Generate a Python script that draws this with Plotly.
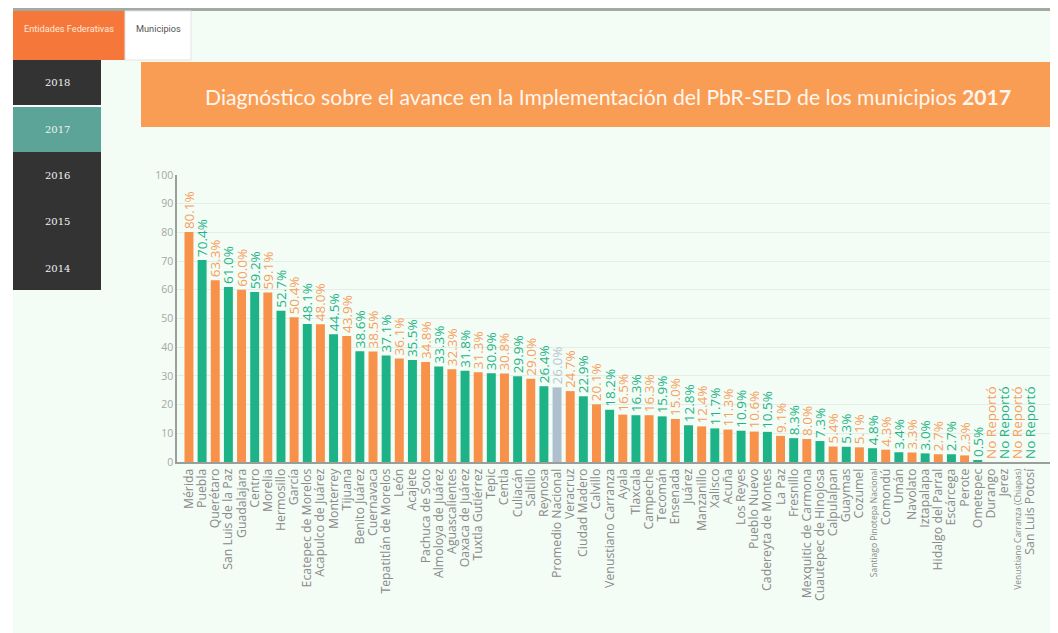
import plotly.graph_objects as go

# ---------------- data ----------------
municipios = [
    "Mérida", "Puebla", "Querétaro", "San Luis de la Paz", "Guadalajara", "Centro",
    "Morelia", "Hermosillo", "García", "Ecatepec de Morelos", "Acapulco de Juárez",
    "Monterrey", "Tijuana", "Benito Juárez", "Cuernavaca", "Tepatitlán de Morelos",
    "León", "Acajete", "Pachuca de Soto", "Almoloya de Juárez", "Aguascalientes",
    "Oaxaca de Juárez", "Tuxtla Gutiérrez", "Tepic", "Centla", "Culiacán", "Saltillo",
    "Reynosa", "Promedio Nacional", "Veracruz", "Ciudad Madero", "Calvillo",
    "Venustiano Carranza", "Ayala", "Tlaxcala", "Campeche", "Tecomán", "Ensenada",
    "Juárez", "Manzanillo", "Xalisco", "Acuña", "Los Reyes", "Pueblo Nuevo",
    "Cadereyta de Montes", "La Paz", "Fresnillo", "Mexquitic de Carmona",
    "Cuautepec de Hinojosa", "Calpulalpan", "Guaymas", "Cozumel",
    "Santiago Pinotepa Nacional", "Comondú", "Umán", "Navolato", "Iztapalapa",
    "Hidalgo del Parral", "Escárcega", "Perote", "Ometepec", "Durango", "Jerez",
    "Venustiano Carranza (Chiapas)", "San Luis Potosí",
]
avance = [
    80.1, 70.4, 63.3, 61.0, 60.0, 59.2, 59.1, 52.7, 50.4, 48.1, 48.0, 44.5, 43.9,
    38.6, 38.5, 37.1, 36.1, 35.5, 34.8, 33.3, 32.3, 31.8, 31.3, 30.9, 30.8, 29.9,
    29.0, 26.4, 26.0, 24.7, 22.9, 20.1, 18.2, 16.5, 16.3, 16.3, 15.9, 15.0, 12.8,
    12.4, 11.7, 11.3, 10.9, 10.6, 10.5, 9.1, 8.3, 8.0, 7.3, 5.4, 5.3, 5.1, 4.8,
    4.3, 3.4, 3.3, 3.0, 2.7, 2.7, 2.3, 0.5, None, None, None, None,
]
grupo = [
    "o", "g", "o", "g", "o", "g", "o", "g", "o", "g", "o", "g", "o", "g", "o", "g",
    "o", "g", "o", "g", "o", "g", "o", "g", "o", "g", "o", "g", "p", "o", "g", "o",
    "g", "o", "g", "o", "g", "o", "g", "o", "g", "o", "g", "o", "g", "o", "g", "o",
    "g", "o", "g", "o", "g", "o", "g", "o", "g", "o", "g", "o", "g", "o", "g", "o", "g",
]
y_ticks = [0, 10, 20, 30, 40, 50, 60, 70, 80, 90, 100]
anios = ["2018", "2017", "2016", "2015", "2014"]
anio_sel = "2017"
titulo = "Diagnóstico sobre el avance en la Implementación del PbR-SED de los municipios"
sin_dato = "No Reportó"

# ---------------- styles ----------------
PAGE_W, PAGE_H = 1058, 633
OFF = 8                      # default body margin of the html page
W, H = PAGE_W - OFF, PAGE_H - OFF
L, R, T, B = 177, 1052, 175, 462   # plot area in page pixels
palette = {"o": "#f8914a", "g": "#1db386", "p": "#aebfcd"}
text_palette = {"o": "#f7a05e", "g": "#1fb388", "p": "#b9c7d3"}


def px(x):
    return (x - L) / (R - L)


def py(y):
    return (B - y) / (B - T)


xs = list(range(len(municipios)))
ys = [v if v is not None else 0 for v in avance]
labels = [f"{v:.1f}%" if v is not None else sin_dato for v in avance]
bar_colors = [palette[g] for g in grupo]
txt_colors = [text_palette[g] for g in grupo]


def tick_label(name):
    if len(name) > 24:
        return f'<span style="font-size:8.5px">{name}</span>'
    if len(name) > 22:
        return f'<span style="font-size:9.5px">{name}</span>'
    return name


fig = go.Figure(
    go.Bar(
        x=xs,
        y=ys,
        marker=dict(color=bar_colors, line=dict(width=0)),
        text=labels,
        textposition="outside",
        textangle=-90,
        constraintext="none",
        cliponaxis=False,
        textfont=dict(family="Open Sans", size=13.5, color=txt_colors),
        hoverinfo="skip",
    )
)

shapes = []


def rect(x0, y0, x1, y1, fill, line=None, layer="below"):
    shapes.append(dict(
        type="rect", xref="paper", yref="paper",
        x0=px(x0), x1=px(x1), y0=py(y1), y1=py(y0),
        fillcolor=fill, line=line or dict(width=0), layer=layer,
    ))


# page background
rect(13, 10, PAGE_W + 5, PAGE_H + 5, "#f3fcf5")
rect(13, 7, PAGE_W + 5, 11, "#a3aaa5")
# tabs
rect(13, 11, 125, 60, "#f5783a")
rect(125, 11, 191, 60, "#ffffff", dict(color="#e4e4e4", width=1))
# sidebar
rect(13, 60, 101, 290, "#333333")
rect(13, 107, 101, 152, "#5ba497")
rect(13, 105, 101, 107, "#ffffff")
# title banner
rect(141, 62, PAGE_W + 5, 127, "#f99d55")


def note(text, x, y, font):
    return dict(text=text, x=px(x), y=py(y), xref="paper", yref="paper",
                xanchor="center", yanchor="middle", showarrow=False, font=font)


annotations = [
    note("Entidades Federativas", 69, 28,
         dict(family="Liberation Sans Narrow, Roboto", size=9.2, color="#fde7d8")),
    note("Municipios", 158, 28,
         dict(family="Liberation Sans Narrow, Roboto", size=9.2, color="#555555")),
    note(f'{titulo} <b>{anio_sel}</b>', 608, 97,
         dict(family="Lato", size=21.2, color="#fff6ee")),
]
for i, a in enumerate(anios):
    annotations.append(note(a, 57, 83 + i * 46.3,
                            dict(family="DejaVu Serif", size=10, color="#f2f2f2")))

fig.update_layout(
    width=W, height=H, autosize=False,
    margin=dict(l=L - OFF, r=PAGE_W - R, t=T - OFF, b=PAGE_H - B, pad=0),
    paper_bgcolor="#ffffff",
    plot_bgcolor="rgba(0,0,0,0)",
    bargap=0.32,
    showlegend=False,
    shapes=shapes,
    annotations=annotations,
    xaxis=dict(
        range=[-0.91, len(municipios) + 0.65],
        tickmode="array", tickvals=xs, ticktext=[tick_label(m) for m in municipios],
        tickangle=-90, showgrid=False, zeroline=False,
        showline=True, linecolor="#9a9f9c", linewidth=1.5,
        ticks="", ticklen=0,
        tickfont=dict(family="Open Sans", size=12.3, color="#8a8a8a"),
        fixedrange=True,
    ),
    yaxis=dict(
        range=[0, 100], tickvals=y_ticks,
        showgrid=True, gridcolor="#e5ede7", gridwidth=1, zeroline=False,
        showline=True, linecolor="#9a9f9c", linewidth=1.5,
        ticks="", tickfont=dict(family="Open Sans", size=10.5, color="#a6a6a6"),
        fixedrange=True,
    ),
)

fig.write_html("out.html")
